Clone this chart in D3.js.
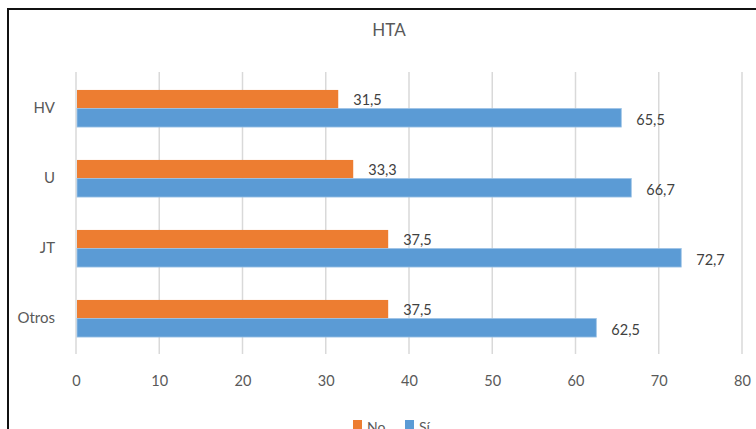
<!DOCTYPE html>
<html>
<head>
<meta charset="utf-8">
<script src="https://cdn.jsdelivr.net/npm/d3@7"></script>
<style>
  html, body { margin: 0; padding: 0; background: #fff; }
  svg { display: block; }
  text { font-family: Lato, "Open Sans", sans-serif; }
</style>
</head>
<body>
<svg id="chart" width="756" height="429"></svg>
<script>
// HTA: share of "No" / "Sí" per group (%)
const categories = ["HV", "U", "JT", "Otros"];
const seriesNames = ["No", "Sí"];
const noValues = [31.5, 33.3, 37.5, 37.5];
const siValues = [65.5, 66.7, 72.7, 62.5];
const xTicks = [0, 10, 20, 30, 40, 50, 60, 70, 80];
const colors = { "No": "#ED7D31", "Sí": "#5B9BD5" };

const svg = d3.select("#chart");

// outer frame
svg.append("rect")
  .attr("x", 8).attr("y", 9)
  .attr("width", 770).attr("height", 440)
  .attr("fill", "#fff").attr("stroke", "#111").attr("stroke-width", 2);

// title
svg.append("text")
  .attr("x", 389).attr("y", 36)
  .attr("text-anchor", "middle")
  .attr("font-size", 17)
  .attr("fill", "#595959")
  .text("HTA");

const x = d3.scaleLinear().domain([0, 80]).range([76, 742]);
const y = d3.scaleBand().domain(categories).range([73.5, 353.5])
  .paddingInner(0.47).paddingOuter(0.235);
const ySub = d3.scaleBand().domain(seriesNames).range([0, y.bandwidth()]);

// vertical gridlines
svg.append("g").selectAll("line").data(xTicks).join("line")
  .attr("x1", d => x(d)).attr("x2", d => x(d))
  .attr("y1", 72).attr("y2", 354)
  .attr("stroke", "#d9d9d9").attr("stroke-width", 1.5);

// x axis tick labels
const xAxis = d3.axisBottom(x).tickValues(xTicks).tickSize(0).tickPadding(0)
  .tickFormat(d3.format("d"));
const gx = svg.append("g").attr("transform", "translate(0,376)").call(xAxis);
gx.select(".domain").remove();
gx.selectAll("text")
  .attr("font-size", 14.5).attr("fill", "#595959")
  .attr("font-family", "Lato, 'Open Sans', sans-serif");

// y axis category labels
const yAxis = d3.axisLeft(y).tickSize(0).tickPadding(0);
const gy = svg.append("g").attr("transform", "translate(55,0)").call(yAxis);
gy.select(".domain").remove();
gy.selectAll("text")
  .attr("font-size", 15).attr("fill", "#595959")
  .attr("font-family", "Lato, 'Open Sans', sans-serif");

// bars
const rows = categories.map((c, i) => ({ cat: c, values: [
  { s: "No", v: noValues[i] }, { s: "Sí", v: siValues[i] }
]}));

const groups = svg.append("g").selectAll("g").data(rows).join("g")
  .attr("transform", d => `translate(0,${y(d.cat)})`);

groups.selectAll("rect").data(d => d.values).join("rect")
  .attr("x", x(0) + 1)
  .attr("y", d => ySub(d.s))
  .attr("width", d => x(d.v) - x(0) - 1)
  .attr("height", ySub.bandwidth())
  .attr("fill", d => colors[d.s])
  .attr("stroke", d => d.s === "Sí" ? "#9dc3e6" : "none")
  .attr("stroke-width", 0.8);

// value labels
groups.selectAll("text.val").data(d => d.values).join("text")
  .attr("class", "val")
  .attr("x", d => x(d.v) + 15)
  .attr("y", d => ySub(d.s) + ySub.bandwidth() / 2 + (d.s === "No" ? 2 : 4))
  .attr("dominant-baseline", "middle")
  .attr("font-size", 14.5)
  .attr("fill", "#404040")
  .text(d => d3.format(".1f")(d.v).replace(".", ","));

// legend
const legend = svg.append("g");
const legendItems = [
  { s: "No", x: 353 },
  { s: "Sí", x: 405 }
];
legend.selectAll("rect").data(legendItems).join("rect")
  .attr("x", d => d.x).attr("y", 420)
  .attr("width", 9).attr("height", 9)
  .attr("fill", d => colors[d.s]);
legend.selectAll("text").data(legendItems).join("text")
  .attr("x", d => d.x + 14).attr("y", 432)
  .attr("font-size", 14).attr("fill", "#595959")
  .text(d => d.s);
</script>
</body>
</html>
